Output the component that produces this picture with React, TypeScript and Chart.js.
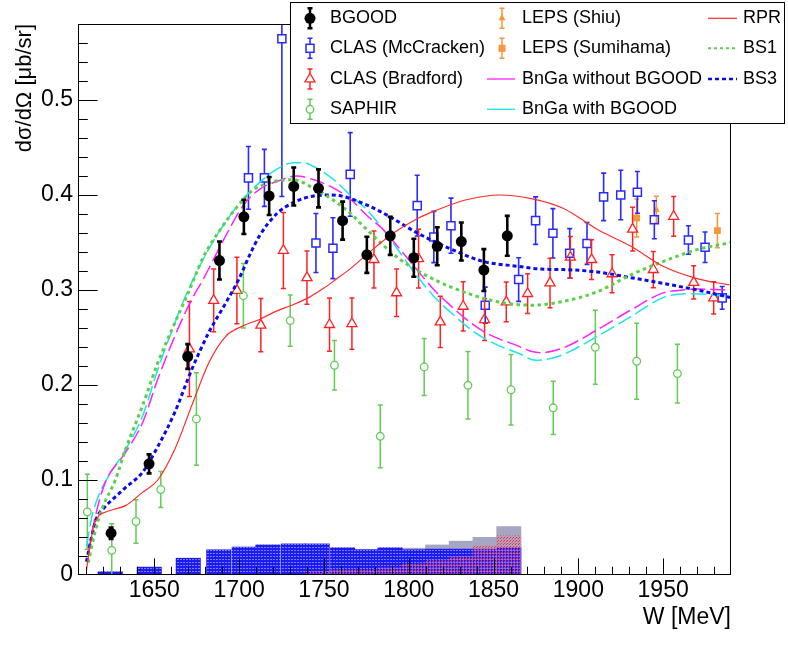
import React, { useEffect, useRef } from 'react';
import { Chart, registerables } from 'chart.js';

Chart.register(...registerables);

// ---------------- data ----------------
const bgoodW = [1624.5, 1646.9, 1669.7, 1688.4, 1702.8, 1717.7, 1732.2, 1746.8, 1761, 1775.3, 1789.1, 1803, 1816.8, 1831, 1844.3, 1858.1];
const bgoodY = [0.044, 0.117, 0.230, 0.331, 0.377, 0.399, 0.409, 0.407, 0.373, 0.337, 0.357, 0.334, 0.346, 0.351, 0.321, 0.357];
const bgoodErr = [0.006, 0.010, 0.013, 0.020, 0.018, 0.020, 0.020, 0.020, 0.020, 0.019, 0.020, 0.020, 0.020, 0.020, 0.022, 0.021];

const mccW = [1705.5, 1714.9, 1725.2, 1745.3, 1755.3, 1765.5, 1805, 1814.8, 1824.9, 1845.1, 1864.8, 1874.8, 1885, 1894.9, 1905.1, 1914.9, 1925, 1934.8, 1944.8, 1964.9, 1974.7, 1984.8];
const mccY = [0.418, 0.418, 0.5645, 0.3495, 0.344, 0.4217, 0.3888, 0.3558, 0.3677, 0.284, 0.311, 0.373, 0.3597, 0.3386, 0.349, 0.398, 0.400, 0.4028, 0.374, 0.3527, 0.345, 0.2917];
const mccErr = [0.033, 0.030, 0.166, 0.031, 0.032, 0.044, 0.032, 0.027, 0.029, 0.019, 0.023, 0.025, 0.026, 0.026, 0.022, 0.025, 0.026, 0.022, 0.020, 0.015, 0.016, 0.012];

const bradW = [1670.7, 1685, 1698.7, 1712.8, 1726.1, 1740, 1753.3, 1766.5, 1779.5, 1792.8, 1805.8, 1818.6, 1832.1, 1844.7, 1857.5, 1870.1, 1883.3, 1895.3, 1907.8, 1919.9, 1932, 1944.2, 1956.2, 1968, 1979.8];
const bradY = [0.238, 0.289, 0.2995, 0.263, 0.3417, 0.313, 0.2636, 0.2646, 0.332, 0.297, 0.333, 0.2664, 0.2828, 0.2688, 0.2875, 0.2962, 0.3074, 0.3344, 0.332, 0.317, 0.364, 0.3215, 0.3775, 0.308, 0.2917];
const bradErr = [0.050, 0.033, 0.035, 0.028, 0.040, 0.028, 0.028, 0.027, 0.030, 0.025, 0.031, 0.027, 0.026, 0.022, 0.021, 0.021, 0.026, 0.022, 0.021, 0.020, 0.023, 0.019, 0.021, 0.0175, 0.017];

const saphirW = [1610.5, 1624.9, 1639.2, 1653.8, 1674.8, 1702.5, 1730.1, 1756.2, 1783.2, 1809.1, 1834.9, 1860.3, 1885.2, 1910, 1934.4, 1958.4];
const saphirY = [0.0665, 0.026, 0.0563, 0.090, 0.1643, 0.294, 0.2678, 0.2208, 0.146, 0.219, 0.1997, 0.195, 0.176, 0.2397, 0.225, 0.212];
const saphirErr = [0.0395, 0.028, 0.023, 0.019, 0.0487, 0.034, 0.027, 0.026, 0.033, 0.030, 0.0356, 0.037, 0.028, 0.039, 0.040, 0.031];

const shiuW = [1946];
const shiuY = [0.3846];
const shiuErr = [0.014];

const sumiW = [1934.4, 1982];
const sumiY = [0.3758, 0.3625];
const sumiErr = [0.020, 0.018];

const rprW = [1610, 1612, 1614, 1617, 1621, 1626, 1633, 1643, 1652, 1662, 1672, 1682, 1692, 1702, 1712, 1721, 1731, 1741, 1750, 1757, 1766, 1775, 1791, 1805, 1815, 1834, 1854, 1873, 1891, 1911, 1931, 1950, 1970, 1990];
const rprY = [0.005, 0.03, 0.05, 0.062, 0.066, 0.069, 0.073, 0.087, 0.100, 0.132, 0.178, 0.223, 0.251, 0.262, 0.269, 0.277, 0.284, 0.292, 0.302, 0.311, 0.323, 0.337, 0.360, 0.375, 0.383, 0.395, 0.400, 0.396, 0.386, 0.364, 0.346, 0.325, 0.312, 0.305];

const bs1W = [1611, 1615, 1619, 1627, 1633, 1643, 1652, 1662, 1670, 1679, 1689, 1699, 1708, 1720, 1732, 1744, 1756, 1766, 1775, 1795, 1815, 1834, 1854, 1873, 1891, 1911, 1931, 1950, 1970, 1990];
const bs1Y = [0.013, 0.045, 0.069, 0.100, 0.132, 0.178, 0.223, 0.265, 0.297, 0.335, 0.364, 0.388, 0.405, 0.414, 0.416, 0.407, 0.394, 0.380, 0.364, 0.332, 0.311, 0.297, 0.287, 0.284, 0.288, 0.298, 0.316, 0.330, 0.3425, 0.350];

const bs3W = [1610, 1613, 1616, 1620, 1625, 1633, 1643, 1652, 1662, 1672, 1682, 1692, 1700, 1706, 1712, 1722, 1732, 1744, 1755, 1766, 1785, 1805, 1825, 1844, 1864, 1878, 1891, 1911, 1931, 1950, 1970, 1990];
const bs3Y = [0.014, 0.040, 0.060, 0.070, 0.079, 0.092, 0.108, 0.135, 0.171, 0.216, 0.255, 0.286, 0.312, 0.336, 0.357, 0.380, 0.392, 0.399, 0.400, 0.396, 0.381, 0.360, 0.343, 0.330, 0.325, 0.322, 0.3215, 0.319, 0.313, 0.307, 0.300, 0.292];

const bngaNoW = [1611, 1615, 1621, 1633, 1643, 1652, 1662, 1672, 1679, 1693, 1702, 1712, 1722, 1734, 1744, 1756, 1766, 1775, 1785, 1795, 1805, 1815, 1825, 1834, 1844, 1854, 1864, 1872, 1878, 1891, 1911, 1931, 1950, 1960, 1970, 1990];
const bngaNoY = [0.023, 0.060, 0.097, 0.129, 0.160, 0.206, 0.251, 0.290, 0.312, 0.360, 0.388, 0.406, 0.414, 0.420, 0.416, 0.407, 0.395, 0.379, 0.3635, 0.3425, 0.321, 0.300, 0.283, 0.269, 0.2565, 0.248, 0.2415, 0.2355, 0.234, 0.239, 0.258, 0.279, 0.297, 0.2997, 0.301, 0.2997];

const bngaWithW = [1610, 1613, 1617, 1623, 1633, 1643, 1652, 1662, 1670, 1683, 1693, 1702, 1712, 1722, 1732, 1738, 1744, 1756, 1766, 1775, 1785, 1795, 1805, 1815, 1825, 1834, 1844, 1854, 1864, 1875, 1885, 1891, 1911, 1931, 1950, 1964, 1980, 1990];
const bngaWithY = [0.030, 0.060, 0.083, 0.104, 0.132, 0.167, 0.216, 0.265, 0.300, 0.346, 0.374, 0.395, 0.413, 0.427, 0.434, 0.434, 0.430, 0.416, 0.399, 0.385, 0.3635, 0.339, 0.3144, 0.293, 0.276, 0.262, 0.2496, 0.2407, 0.234, 0.226, 0.2285, 0.232, 0.251, 0.272, 0.292, 0.296, 0.295, 0.293];

// systematic uncertainty histograms (bin centres)
const histW = [1624, 1647, 1670, 1688, 1703, 1717, 1732, 1746, 1761, 1775, 1789, 1803, 1817, 1831, 1845, 1859];
const histBlue = [0.0037, 0.0086, 0.018, 0.0268, 0.0297, 0.032, 0.033, 0.033, 0.029, 0.027, 0.029, 0.027, 0.0276, 0.0276, 0.0276, 0.029];
const histRed = [0, 0, 0, 0, 0, 0, 0, 0.004, 0.006, 0.006, 0.008, 0.012, 0.016, 0.020, 0.031, 0.0415];
const histGray = [0.0037, 0.0086, 0.018, 0.0268, 0.0297, 0.032, 0.033, 0.033, 0.029, 0.027, 0.029, 0.0286, 0.032, 0.036, 0.040, 0.0513];

const xTickValues = [1650, 1700, 1750, 1800, 1850, 1900, 1950];
const xTickLabels = ['1650', '1700', '1750', '1800', '1850', '1900', '1950'];
const yTickValues = [0, 0.1, 0.2, 0.3, 0.4, 0.5];
const yTickLabels = ['0', '0.1', '0.2', '0.3', '0.4', '0.5'];

const FONT = '"Liberation Sans", Arial, Helvetica, sans-serif';

const zip = (xs: number[], ys: number[]) => xs.map((x, i) => ({ x, y: ys[i] }));

const COL = {
  bgood: '#000000',
  mcc: '#2a2aff',
  brad: '#ff2222',
  saphir: '#62cc55',
  leps: '#f7963a',
  rpr: '#ff2a2a',
  bs1: '#5ccf4c',
  bs3: '#0a0aee',
  bngaNo: '#ff20ff',
  bngaWith: '#1ae6e6',
};

// ---------------- plugins ----------------
const errorBarPlugin = {
  id: 'errorBars',
  beforeDatasetDraw(chart: any, args: any) {
    const ds = chart.data.datasets[args.index];
    if (!ds.errors) return;
    const { ctx, chartArea: a, scales } = chart;
    const xs = scales.x;
    const ys = scales.y;
    ctx.save();
    ctx.beginPath();
    ctx.rect(a.left, a.top, a.right - a.left, a.bottom - a.top);
    ctx.clip();
    ctx.strokeStyle = ds.errColor;
    ctx.lineWidth = ds.errWidth;
    ctx.beginPath();
    ds.data.forEach((p: any, i: number) => {
      const e = ds.errors[i];
      const px = xs.getPixelForValue(p.x);
      const py = ys.getPixelForValue(p.y);
      const top = ys.getPixelForValue(p.y + e);
      const bot = ys.getPixelForValue(p.y - e);
      const gt = ds.gapTop || 0;
      const gb = ds.gapBottom || 0;
      if (py - gt > top) {
        ctx.moveTo(px, top);
        ctx.lineTo(px, py - gt);
      }
      if (py + gb < bot) {
        ctx.moveTo(px, py + gb);
        ctx.lineTo(px, bot);
      }
      const c = ds.capHalf;
      ctx.moveTo(px - c, top);
      ctx.lineTo(px + c, top);
      ctx.moveTo(px - c, bot);
      ctx.lineTo(px + c, bot);
    });
    ctx.stroke();
    ctx.restore();
  },
};

const framePlugin = {
  id: 'rootFrame',
  afterDatasetsDraw(chart: any) {
    const { ctx, chartArea: a, scales } = chart;
    const xs = scales.x;
    const ys = scales.y;
    ctx.save();
    ctx.strokeStyle = '#000';
    ctx.lineWidth = 1;
    ctx.strokeRect(a.left + 0.5, a.top + 0.5, a.right - a.left - 1, a.bottom - a.top - 1);
    ctx.beginPath();
    const xh = a.bottom - a.top;
    const yw = a.right - a.left;
    for (let v = Math.ceil(xs.min / 10) * 10; v < xs.max; v += 10) {
      const px = Math.round(xs.getPixelForValue(v)) + 0.5;
      const len = v % 50 === 0 ? 0.03 * xh : 0.015 * xh;
      ctx.moveTo(px, a.bottom);
      ctx.lineTo(px, a.bottom - len);
    }
    for (let k = 1; k * 0.02 < ys.max - 1e-6; k++) {
      const py = Math.round(ys.getPixelForValue(k * 0.02)) + 0.5;
      const len = k % 5 === 0 ? 0.03 * yw : 0.015 * yw;
      ctx.moveTo(a.left, py);
      ctx.lineTo(a.left + len, py);
    }
    ctx.stroke();
    ctx.restore();
  },
};

function drawErr(ctx: CanvasRenderingContext2D, x: number, y: number, color: string, w: number, gt: number, gb: number) {
  ctx.strokeStyle = color;
  ctx.lineWidth = w;
  ctx.beginPath();
  ctx.moveTo(x, y - 10);
  ctx.lineTo(x, y - gt);
  ctx.moveTo(x, y + gb);
  ctx.lineTo(x, y + 10);
  ctx.moveTo(x - 2.5, y - 10);
  ctx.lineTo(x + 2.5, y - 10);
  ctx.moveTo(x - 2.5, y + 10);
  ctx.lineTo(x + 2.5, y + 10);
  ctx.stroke();
}

function triPath(ctx: CanvasRenderingContext2D, x: number, y: number, r: number) {
  ctx.beginPath();
  ctx.moveTo(x, y - r);
  ctx.lineTo(x + r * Math.sin((2 * Math.PI) / 3), y - r * Math.cos((2 * Math.PI) / 3));
  ctx.lineTo(x + r * Math.sin((4 * Math.PI) / 3), y - r * Math.cos((4 * Math.PI) / 3));
  ctx.closePath();
}

const legendPlugin = {
  id: 'rootLegend',
  afterDraw(chart: any) {
    const ctx: CanvasRenderingContext2D = chart.ctx;
    ctx.save();
    ctx.fillStyle = '#fff';
    ctx.fillRect(290, 2, 495, 122);
    ctx.strokeStyle = '#000';
    ctx.lineWidth = 1;
    ctx.strokeRect(290.5, 2.5, 494, 121);

    const rows = [18.3, 48.3, 79, 109.3];
    const c1 = 310;
    drawErr(ctx, c1, rows[0], '#000', 2.5, 0, 0);
    ctx.fillStyle = '#000';
    ctx.beginPath();
    ctx.arc(c1, rows[0], 5.5, 0, Math.PI * 2);
    ctx.fill();

    drawErr(ctx, c1, rows[1], COL.mcc, 1.5, 4, 4);
    ctx.strokeStyle = COL.mcc;
    ctx.lineWidth = 1.5;
    ctx.strokeRect(c1 - 4, rows[1] - 4, 8, 8);

    drawErr(ctx, c1, rows[2], COL.brad, 1.5, 5.8, 2.9);
    ctx.strokeStyle = COL.brad;
    ctx.lineWidth = 1.3;
    triPath(ctx, c1, rows[2], 5.8);
    ctx.stroke();

    drawErr(ctx, c1, rows[3], COL.saphir, 1.5, 3.8, 3.8);
    ctx.strokeStyle = COL.saphir;
    ctx.lineWidth = 1.3;
    ctx.beginPath();
    ctx.arc(c1, rows[3], 3.8, 0, Math.PI * 2);
    ctx.stroke();

    const c2 = 502;
    drawErr(ctx, c2, rows[0], COL.leps, 1.5, 0, 0);
    ctx.fillStyle = COL.leps;
    triPath(ctx, c2, rows[0], 4);
    ctx.fill();
    drawErr(ctx, c2, rows[1], COL.leps, 1.5, 0, 0);
    ctx.fillRect(c2 - 3.5, rows[1] - 3.5, 7, 7);

    const line = (x0: number, x1: number, y: number, color: string, w: number, dash: number[]) => {
      ctx.strokeStyle = color;
      ctx.lineWidth = w;
      ctx.setLineDash(dash);
      ctx.beginPath();
      ctx.moveTo(x0, y);
      ctx.lineTo(x1, y);
      ctx.stroke();
      ctx.setLineDash([]);
    };
    line(487, 515, rows[2], COL.bngaNo, 1.3, []);
    line(487, 515, rows[3], COL.bngaWith, 1.3, []);
    line(708, 737, rows[0], COL.rpr, 1.2, []);
    line(708, 737, rows[1], COL.bs1, 2, [3, 3]);
    line(708, 737, rows[2], COL.bs3, 2.5, [4, 3]);

    ctx.fillStyle = '#000';
    ctx.font = `18px ${FONT}`;
    ctx.textBaseline = 'middle';
    ctx.textAlign = 'left';
    const t1 = ['BGOOD', 'CLAS (McCracken)', 'CLAS (Bradford)', 'SAPHIR'];
    const t2 = ['LEPS (Shiu)', 'LEPS (Sumihama)', 'BnGa without BGOOD', 'BnGa with BGOOD'];
    const t3 = ['RPR', 'BS1', 'BS3'];
    t1.forEach((t, i) => ctx.fillText(t, 330, rows[i]));
    t2.forEach((t, i) => ctx.fillText(t, 522, rows[i]));
    t3.forEach((t, i) => ctx.fillText(t, 743, rows[i]));
    ctx.restore();
  },
};

function makePattern(kind: 'blue' | 'red'): CanvasPattern | string {
  const c = document.createElement('canvas');
  c.width = 3;
  c.height = 3;
  const g = c.getContext('2d');
  if (!g) return kind === 'blue' ? '#2020f0' : 'rgba(255,40,60,0.5)';
  if (kind === 'blue') {
    g.fillStyle = '#1c1cf0';
    g.fillRect(0, 0, 3, 3);
    g.fillStyle = '#7a7aff';
    g.fillRect(0, 1, 2, 1);
  } else {
    g.clearRect(0, 0, 3, 3);
    g.fillStyle = 'rgba(255,30,60,0.85)';
    g.fillRect(0, 0, 1, 1);
    g.fillRect(2, 1, 1, 1);
    g.fillStyle = 'rgba(255,110,130,0.55)';
    g.fillRect(1, 2, 1, 1);
    g.fillRect(1, 0, 1, 1);
  }
  const p = g.createPattern(c, 'repeat');
  return p || '#2020f0';
}

export default function App() {
  const ref = useRef<HTMLCanvasElement | null>(null);
  useEffect(() => {
    if (!ref.current) return;
    Chart.defaults.font.family = FONT;
    Chart.defaults.color = '#000';

    const scatter = (label: string, xs: number[], ys: number[], errs: number[], o: any) => ({
      type: 'line',
      label,
      data: zip(xs, ys),
      showLine: false,
      errors: errs,
      order: 3,
      ...o,
    });
    const curve = (label: string, xs: number[], ys: number[], color: string, width: number, dash: number[]) => ({
      type: 'line',
      label,
      data: zip(xs, ys),
      borderColor: color,
      borderWidth: width,
      borderDash: dash,
      pointRadius: 0,
      fill: false,
      cubicInterpolationMode: 'monotone',
      order: 2,
    });
    const hist = (label: string, ys: number[], bg: any, order: number) => ({
      type: 'bar',
      label,
      data: zip(histW, ys),
      backgroundColor: bg,
      borderWidth: 0,
      barPercentage: 1.05,
      categoryPercentage: 1,
      grouped: false,
      order,
    });

    const chart = new Chart(ref.current, {
      type: 'line',
      data: {
        datasets: [
          hist('Sys. total', histGray, '#a6a6c2', 12),
          hist('Sys. BGOOD', histBlue, makePattern('blue'), 11),
          hist('Sys. other', histRed, makePattern('red'), 10),
          scatter('SAPHIR', saphirW, saphirY, saphirErr, {
            pointStyle: 'circle', pointRadius: 3.8, pointBorderWidth: 1.3,
            pointBorderColor: COL.saphir, pointBackgroundColor: 'rgba(0,0,0,0)',
            errColor: COL.saphir, errWidth: 1.5, gapTop: 3.8, gapBottom: 3.8, capHalf: 2.5,
          }),
          scatter('CLAS (Bradford)', bradW, bradY, bradErr, {
            pointStyle: 'triangle', pointRadius: 5.8, pointBorderWidth: 1.3,
            pointBorderColor: COL.brad, pointBackgroundColor: 'rgba(0,0,0,0)',
            errColor: COL.brad, errWidth: 1.5, gapTop: 5.8, gapBottom: 2.9, capHalf: 2.5,
          }),
          scatter('CLAS (McCracken)', mccW, mccY, mccErr, {
            pointStyle: 'rect', pointRadius: 5.7, pointBorderWidth: 1.5,
            pointBorderColor: COL.mcc, pointBackgroundColor: 'rgba(0,0,0,0)',
            errColor: COL.mcc, errWidth: 1.6, gapTop: 4, gapBottom: 4, capHalf: 2.5,
          }),
          scatter('LEPS (Shiu)', shiuW, shiuY, shiuErr, {
            pointStyle: 'triangle', pointRadius: 4, pointBorderWidth: 0,
            pointBorderColor: COL.leps, pointBackgroundColor: COL.leps,
            errColor: COL.leps, errWidth: 1.5, capHalf: 2.5,
          }),
          scatter('LEPS (Sumihama)', sumiW, sumiY, sumiErr, {
            pointStyle: 'rect', pointRadius: 4.8, pointBorderWidth: 0,
            pointBorderColor: COL.leps, pointBackgroundColor: COL.leps,
            errColor: COL.leps, errWidth: 1.5, capHalf: 2.5,
          }),
          scatter('BGOOD', bgoodW, bgoodY, bgoodErr, {
            pointStyle: 'circle', pointRadius: 5.5, pointBorderWidth: 0,
            pointBorderColor: COL.bgood, pointBackgroundColor: COL.bgood,
            errColor: COL.bgood, errWidth: 2.6, capHalf: 2.5, order: 1,
          }),
          curve('RPR', rprW, rprY, COL.rpr, 1.2, []),
          curve('BS1', bs1W, bs1Y, COL.bs1, 3, [3.5, 3.5]),
          curve('BS3', bs3W, bs3Y, COL.bs3, 3, [4, 3]),
          curve('BnGa without BGOOD', bngaNoW, bngaNoY, COL.bngaNo, 1.5, [15, 5]),
          curve('BnGa with BGOOD', bngaWithW, bngaWithY, COL.bngaWith, 1.5, [15, 5]),
        ] as any,
      },
      options: {
        responsive: false,
        animation: false,
        events: [],
        layout: { padding: { top: 24, right: 57, left: 0, bottom: 0 } },
        plugins: {
          legend: { display: false },
          tooltip: { enabled: false },
          title: { display: false },
        },
        scales: {
          x: {
            type: 'linear',
            offset: false,
            min: 1605,
            max: 1990,
            grid: { display: false, drawTicks: false, offset: false },
            border: { display: false },
            afterFit: (s: any) => { s.height = 77; },
            afterBuildTicks: (s: any) => { s.ticks = xTickValues.map((value) => ({ value })); },
            ticks: {
              autoSkip: false,
              maxRotation: 0,
              padding: 2,
              font: { size: 23, family: FONT },
              color: '#000',
              callback: (v: any) => xTickLabels[xTickValues.indexOf(Number(v))] ?? '',
            },
            title: {
              display: true,
              text: 'W [MeV]',
              align: 'end',
              color: '#000',
              font: { size: 23, family: FONT },
              padding: { top: 0, bottom: 21 },
            },
          },
          y: {
            type: 'linear',
            min: 0,
            max: 0.58,
            grid: { display: false, drawTicks: false },
            border: { display: false },
            afterFit: (s: any) => { s.width = 78; },
            afterBuildTicks: (s: any) => { s.ticks = yTickValues.map((value) => ({ value })); },
            ticks: {
              padding: 5,
              font: { size: 23, family: FONT },
              color: '#000',
              callback: (v: any) => {
                const i = yTickValues.findIndex((t) => Math.abs(t - Number(v)) < 1e-9);
                return i >= 0 ? yTickLabels[i] : '';
              },
            },
            title: {
              display: true,
              text: 'dσ/dΩ [μb/sr]',
              align: 'end',
              color: '#000',
              font: { size: 22, family: FONT },
              padding: { top: 12, bottom: 0 },
            },
          },
        },
      } as any,
      plugins: [errorBarPlugin, framePlugin, legendPlugin] as any,
    });
    return () => chart.destroy();
  }, []);

  return (
    <div style={{ position: 'absolute', left: 0, top: 0, width: 788, height: 652, background: '#fff' }}>
      <canvas ref={ref} width={788} height={652} style={{ width: 788, height: 652, display: 'block' }} />
    </div>
  );
}
